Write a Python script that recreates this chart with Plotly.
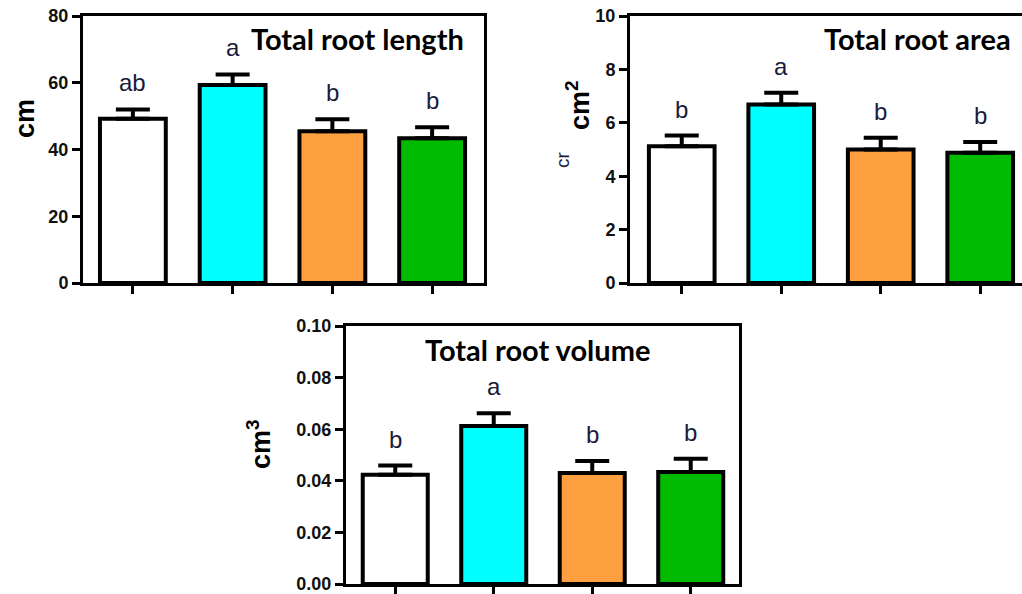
import plotly.graph_objects as go

# ---- data ----
groups = ["G1", "G2", "G3", "G4"]
x_pos = [0, 1, 2, 3]
bar_colors = ["#FFFFFF", "#00FFFF", "#FFA040", "#00BB00"]

length_mean = [49.2, 59.3, 45.5, 43.4]
length_err = [2.8, 3.2, 3.6, 3.3]
length_letters = ["ab", "a", "b", "b"]

area_mean = [5.12, 6.69, 5.00, 4.88]
area_err = [0.40, 0.44, 0.44, 0.40]
area_letters = ["b", "a", "b", "b"]

volume_mean = [0.0423, 0.0612, 0.0430, 0.0434]
volume_err = [0.0036, 0.0050, 0.0047, 0.0051]
volume_letters = ["b", "a", "b", "b"]

W, H = 1022, 594


def px(x):
    return x / W


def py(y):
    return 1 - y / H


panels = [
    dict(ax="", mean=length_mean, err=length_err, letters=length_letters,
         xdom=[px(83), px(484)], ydom=[py(283), py(16)], xr=[-0.5, 3.52],
         yr=[0, 80], dtick=20, fmt="d", title="Total root length",
         tpos=(357, 39), ytitle="cm", ytpos=(25, 119)),
    dict(ax="2", mean=area_mean, err=area_err, letters=area_letters,
         xdom=[px(630), 1.0], ydom=[py(283), py(16)], xr=[-0.52, 3.42],
         yr=[0, 10], dtick=2, fmt="d", title="Total root area",
         tpos=(917, 39), ytitle="cm<sup>2</sup>", ytpos=(578, 105)),
    dict(ax="3", mean=volume_mean, err=volume_err, letters=volume_letters,
         xdom=[px(346), px(739)], ydom=[py(584), py(326)], xr=[-0.5, 3.49],
         yr=[0, 0.1], dtick=0.02, fmt=".2f", title="Total root volume",
         tpos=(537, 349), ytitle="cm<sup>3</sup>", ytpos=(259, 444)),
]

fig = go.Figure()
annotations = []
TXT = "#1a1a3a"
SANS = "Liberation Sans, Arial, sans-serif"

for p in panels:
    xa = "x" + p["ax"]
    ya = "y" + p["ax"]
    fig.add_trace(go.Bar(
        x=x_pos, y=p["mean"], width=0.66,
        marker=dict(color=bar_colors, line=dict(color="black", width=4)),
        error_y=dict(type="data", symmetric=False, array=p["err"],
                     arrayminus=[0] * len(p["err"]),
                     color="black", thickness=4, width=17),
        xaxis=xa, yaxis=ya, showlegend=False,
    ))
    for i, lt in enumerate(p["letters"]):
        annotations.append(dict(
            x=x_pos[i], y=p["mean"][i] + p["err"][i], xref=xa, yref=ya,
            text=lt, showarrow=False, yanchor="bottom", yshift=11,
            font=dict(family=SANS, size=24, color=TXT)))
    annotations.append(dict(
        x=px(p["tpos"][0]), y=py(p["tpos"][1]), xref="paper", yref="paper",
        text="<b>" + p["title"] + "</b>", showarrow=False,
        xanchor="center", yanchor="middle",
        font=dict(family="Lato, Carlito, sans-serif", size=29, color="black")))
    annotations.append(dict(
        x=px(p["ytpos"][0]), y=py(p["ytpos"][1]), xref="paper", yref="paper",
        text="<b>" + p["ytitle"] + "</b>", showarrow=False, textangle=-90,
        xanchor="center", yanchor="middle",
        font=dict(family=SANS, size=27, color="black")))

    axkey = "xaxis" + p["ax"]
    aykey = "yaxis" + p["ax"]
    fig.update_layout(**{
        axkey: dict(domain=p["xdom"], range=p["xr"], anchor=ya,
                    tickvals=x_pos, showticklabels=False, ticks="outside",
                    ticklen=8, tickwidth=2.5, tickcolor="black",
                    showline=True, linewidth=3, linecolor="black",
                    mirror=True, showgrid=False, zeroline=False,
                    fixedrange=True, automargin=False),
        aykey: dict(domain=p["ydom"], range=p["yr"], anchor=xa,
                    dtick=p["dtick"], tick0=0, tickformat=p["fmt"],
                    ticks="outside", ticklen=8, tickwidth=2.5,
                    tickcolor="black", showline=True, linewidth=3,
                    linecolor="black", mirror=True, showgrid=False,
                    zeroline=False, automargin=False,
                    ticklabeloverflow="allow",
                    tickfont=dict(family=SANS, size=18,
                                  color="#111", weight="bold")),
    })

# leftover partial label fragment visible in the original
annotations.append(dict(
    x=px(562), y=py(160), xref="paper", yref="paper", text="cr",
    showarrow=False, textangle=-90, xanchor="center", yanchor="middle",
    font=dict(family=SANS, size=19, color=TXT)))

fig.update_layout(
    width=W, height=H, margin=dict(l=0, r=0, t=0, b=0, autoexpand=False),
    paper_bgcolor="white", plot_bgcolor="white",
    bargap=0.3, annotations=annotations,
)

fig.write_html("out.html")
